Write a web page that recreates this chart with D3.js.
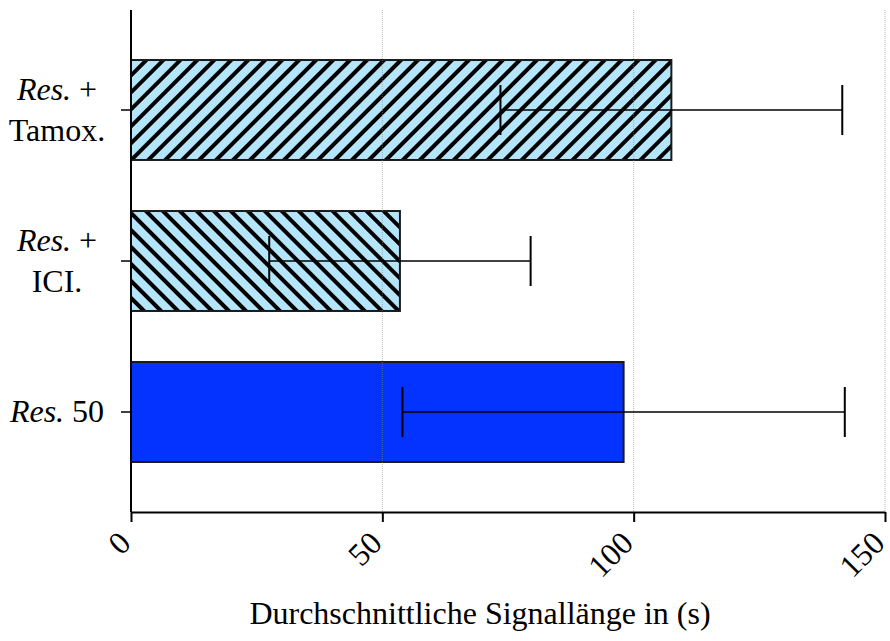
<!DOCTYPE html>
<html>
<head>
<meta charset="utf-8">
<script src="https://cdn.jsdelivr.net/npm/d3@7"></script>
<style>
  body { margin: 0; background: #fff; }
  text { font-family: "Liberation Serif", "Times New Roman", serif; fill: #000; }
</style>
</head>
<body>
<div id="chart"></div>
<script>

// groups, top to bottom
var groups = ["tamox", "ici", "res50"];

// first line of each y label (italic part + plain part), second line
var labelItalic = ["Res.", "Res.", "Res."];
var labelRest = [" +", " +", " 50"];
var labelSecond = ["Tamox.", "ICI.", ""];

// mean signal length and error (s)
var means = [107.5, 53.5, 98];
var errors = [34, 26, 44];

// fill of each bar
var fills = ["url(#hatchUp)", "url(#hatchDown)", "#0433ff"];

var xTicks = [0, 50, 100, 150];
var xTitle = "Durchschnittliche Signallänge in (s)";

// sizes
var width = 890,
	height = 641,
	margin = {top: 10, left: 131, right: 5, bottom: 129};

var svg = d3.select("#chart")
	.append("svg")
	.attr("width", width)
	.attr("height", height);

// hatch patterns
var defs = svg.append("defs");

function makeHatch(id, angle){

	var p = defs.append("pattern")
		.attr("id", id)
		.attr("patternUnits", "userSpaceOnUse")
		.attr("width", 12)
		.attr("height", 12)
		.attr("patternTransform", "rotate(" + angle + ")");

	p.append("rect")
		.attr("width", 12)
		.attr("height", 12)
		.attr("fill", "#b5e5fb");

	p.append("rect")
		.attr("width", 4)
		.attr("height", 12)
		.attr("fill", "#000");
}

makeHatch("hatchUp", 45);
makeHatch("hatchDown", -45);

// scales
var x = d3.scaleLinear()
	.domain([0, 150])
	.range([margin.left, width - margin.right]);

var y = d3.scaleBand()
	.domain(groups)
	.range([34.5, 487.5])
	.paddingInner(0.338)
	.paddingOuter(0.169);

var axisY = height - margin.bottom;

// bars
svg.append("g")
	.selectAll("rect")
	.data(groups)
	.enter()
	.append("rect")
	.attr("x", x(0))
	.attr("y", function(d){

		return y(d);
	})
	.attr("width", function(d, i){

		return x(means[i]) - x(0);
	})
	.attr("height", y.bandwidth())
	.attr("fill", function(d, i){

		return fills[i];
	})
	.attr("stroke", "#1a1a1a")
	.attr("stroke-width", 2);

// dotted grid lines
svg.append("g")
	.selectAll("line")
	.data(xTicks.slice(1))
	.enter()
	.append("line")
	.attr("x1", function(d){ return x(d); })
	.attr("x2", function(d){ return x(d); })
	.attr("y1", margin.top)
	.attr("y2", axisY)
	.attr("stroke", "#888")
	.attr("stroke-width", 1)
	.attr("stroke-dasharray", "1,1")
	.attr("opacity", 0.6);

// error bars
var err = svg.append("g")
	.attr("stroke", "#000");

groups.forEach(function(g, i){

	var cy = y(g) + y.bandwidth() / 2,
		lo = x(means[i] - errors[i]),
		hi = x(means[i] + errors[i]);

	err.append("line")
		.attr("x1", lo).attr("x2", hi)
		.attr("y1", cy).attr("y2", cy)
		.attr("stroke-width", 1.5);

	[lo, hi].forEach(function(px){

		err.append("line")
			.attr("x1", px).attr("x2", px)
			.attr("y1", cy - 25).attr("y2", cy + 25)
			.attr("stroke-width", 2);
	});
});

// x axis
var xAxis = svg.append("g")
	.attr("transform", "translate(0," + axisY + ")")
	.call(d3.axisBottom(x).tickValues(xTicks).tickSize(10).tickSizeOuter(0));

xAxis.select(".domain").attr("stroke-width", 2);
xAxis.selectAll(".tick line").attr("stroke-width", 2);
xAxis.selectAll(".tick text")
	.attr("font-size", 32)
	.attr("text-anchor", "end")
	.attr("dy", null)
	.attr("y", null)
	.attr("transform", "translate(1,33) rotate(-45)");

// y axis
var yAxis = svg.append("g")
	.attr("transform", "translate(" + margin.left + ",0)")
	.call(d3.axisLeft(y).tickSize(10).tickSizeOuter(0).tickFormat(""));

yAxis.select(".domain")
	.attr("d", "M0," + margin.top + "V" + axisY)
	.attr("stroke-width", 2);
yAxis.selectAll(".tick line").attr("stroke-width", 1.5);

// y labels
groups.forEach(function(g, i){

	var cy = y(g) + y.bandwidth() / 2;
	var two = labelSecond[i] !== "";

	var t = svg.append("text")
		.attr("x", 57)
		.attr("y", two ? cy - 10 : cy + 10)
		.attr("text-anchor", "middle")
		.attr("font-size", 32);

	t.append("tspan")
		.attr("font-style", "italic")
		.text(labelItalic[i]);
	t.append("tspan")
		.text(labelRest[i]);

	if (two){
		svg.append("text")
			.attr("x", 57)
			.attr("y", cy + 31)
			.attr("text-anchor", "middle")
			.attr("font-size", 32)
			.text(labelSecond[i]);
	}
});

// x title
svg.append("text")
	.attr("x", 480)
	.attr("y", 624)
	.attr("text-anchor", "middle")
	.attr("font-size", 32)
	.text(xTitle);

</script>
</body>
</html>
